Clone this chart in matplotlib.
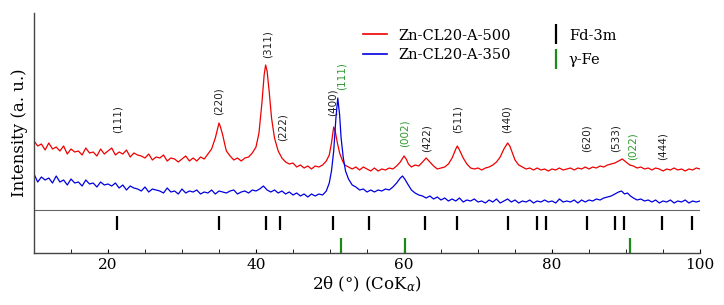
import matplotlib
matplotlib.use("Agg")
import matplotlib.pyplot as plt
from matplotlib.lines import Line2D
from matplotlib.ticker import MultipleLocator

# Zn-CL20-A-500 (red), intensity in arbitrary units
red_x = [10, 10.5, 11, 11.5, 12, 12.5, 13, 13.5, 14, 14.5, 15, 15.5, 16, 16.5, 17, 17.5, 18, 18.5, 19, 19.5,
         20, 20.5, 21, 21.5, 22, 22.5, 23, 23.5, 24, 24.5, 25, 25.5, 26, 26.5, 27, 27.5, 28, 28.5, 29, 29.5,
         30, 30.5, 31, 31.5, 32, 32.5, 33, 33.5, 34, 34.5, 34.8, 35.0, 35.2, 35.5, 35.8, 36, 36.5, 37, 37.5, 38,
         38.5, 39, 39.5, 40, 40.4, 40.8, 41.1, 41.3, 41.5, 41.8, 42.1, 42.5, 43, 43.5, 44, 44.5, 45, 45.5, 46, 46.5,
         47, 47.5, 48, 48.5, 49, 49.5, 49.9, 50.2, 50.5, 50.7, 51.0, 51.3, 51.7, 52, 52.5, 53, 53.5, 54, 54.5, 55,
         55.5, 56, 56.5, 57, 57.5, 58, 58.5, 59, 59.5, 60, 60.3, 60.6, 61, 61.5, 62, 62.5, 63, 63.5, 64, 64.5,
         65, 65.5, 66, 66.5, 67, 67.2, 67.5, 68, 68.5, 69, 69.5, 70, 70.5, 71, 71.5, 72, 72.5, 73, 73.5, 74,
         74.3, 74.7, 75, 75.5, 76, 76.5, 77, 77.5, 78, 78.5, 79, 79.5, 80, 80.5, 81, 81.5, 82, 82.5, 83, 83.5,
         84, 84.5, 85, 85.5, 86, 86.5, 87, 87.5, 88, 88.5, 89, 89.5, 90, 90.5, 91, 91.5, 92, 92.5, 93, 93.5,
         94, 94.5, 95, 95.5, 96, 96.5, 97, 97.5, 98, 98.5, 99, 99.5, 100]
red_y = [112, 107, 109, 103, 110, 104, 106, 102, 107, 99, 104, 101, 102, 98, 105, 100, 101, 97, 104, 99,
         102, 105, 98, 101, 99, 103, 96, 100, 98, 97, 95, 99, 93, 96, 95, 98, 92, 95, 94, 91,
         94, 97, 92, 95, 92, 96, 94, 99, 104, 115, 124, 130, 126, 118, 108, 102, 97, 93, 95, 92,
         95, 96, 100, 106, 120, 150, 178, 188, 182, 160, 135, 115, 102, 95, 91, 89, 90, 86, 88, 85,
         87, 84, 87, 86, 88, 92, 98, 110, 126, 122, 110, 100, 92, 88, 86, 84, 86, 83, 86, 84,
         82, 85, 82, 84, 83, 85, 84, 87, 91, 97, 94, 89, 86, 88, 87, 91, 95, 91, 87, 84,
         85, 86, 89, 95, 104, 107, 103, 95, 89, 85, 84, 85, 83, 85, 86, 88, 91, 96, 104, 110,
         107, 99, 93, 88, 86, 84, 85, 83, 85, 83, 84, 82, 84, 83, 85, 83, 84, 85, 83, 85,
         84, 86, 84, 86, 85, 87, 86, 88, 89, 90, 92, 94, 91, 88, 87, 85, 86, 84, 85, 83,
         85, 84, 82, 84, 83, 85, 83, 84, 82, 84, 83, 85, 84]

# Zn-CL20-A-350 (blue)
blue_x = [10, 10.5, 11, 11.5, 12, 12.5, 13, 13.5, 14, 14.5, 15, 15.5, 16, 16.5, 17, 17.5, 18, 18.5, 19, 19.5,
          20, 20.5, 21, 21.5, 22, 22.5, 23, 23.5, 24, 24.5, 25, 25.5, 26, 26.5, 27, 27.5, 28, 28.5, 29, 29.5,
          30, 30.5, 31, 31.5, 32, 32.5, 33, 33.5, 34, 34.5, 35, 35.5, 36, 36.5, 37, 37.5, 38, 38.5, 39, 39.5,
          40, 40.5, 41, 41.5, 42, 42.5, 43, 43.5, 44, 44.5, 45, 45.5, 46, 46.5, 47, 47.5, 48, 48.5, 49, 49.5,
          49.9, 50.2, 50.5, 50.8, 51.05, 51.3, 51.5, 51.8, 52.1, 52.5, 53, 53.5, 54, 54.5, 55, 55.5, 56, 56.5,
          57, 57.5, 58, 58.5, 59, 59.5, 59.8, 60.1, 60.5, 61, 61.5, 62, 62.5, 63, 63.5, 64, 64.5, 65, 65.5,
          66, 66.5, 67, 67.5, 68, 68.5, 69, 69.5, 70, 70.5, 71, 71.5, 72, 72.5, 73, 73.5, 74, 74.5, 75, 75.5,
          76, 76.5, 77, 77.5, 78, 78.5, 79, 79.5, 80, 80.5, 81, 81.5, 82, 82.5, 83, 83.5, 84, 84.5, 85, 85.5,
          86, 86.5, 87, 87.5, 88, 88.5, 89, 89.4, 89.8, 90.2, 90.6, 91, 91.5, 92, 92.5, 93, 93.5, 94, 94.5, 95,
          95.5, 96, 96.5, 97, 97.5, 98, 98.5, 99, 99.5, 100]
blue_y = [79, 71, 76, 73, 75, 70, 77, 71, 73, 68, 74, 70, 71, 67, 73, 69, 70, 66, 71, 68,
          69, 67, 70, 65, 68, 63, 67, 65, 64, 62, 66, 61, 64, 63, 62, 60, 65, 61, 62, 59,
          64, 60, 62, 61, 63, 59, 61, 60, 63, 59, 62, 61, 60, 62, 63, 59, 61, 62, 60, 63,
          62, 64, 67, 63, 61, 63, 60, 62, 59, 61, 58, 60, 57, 59, 56, 59, 57, 59, 58, 62,
          70, 82, 102, 135, 155, 138, 115, 95, 82, 74, 68, 66, 63, 64, 61, 63, 61, 63,
          62, 64, 63, 66, 70, 75, 77, 74, 69, 63, 60, 58, 57, 55, 57, 54, 56, 53, 55,
          52, 54, 52, 55, 51, 53, 52, 54, 51, 52, 50, 53, 51, 54, 50, 52, 54, 51, 53, 50,
          52, 51, 53, 50, 52, 51, 53, 51, 52, 50, 54, 51, 52, 51, 53, 50, 53, 51, 53, 52,
          54, 53, 55, 56, 57, 59, 61, 62, 59, 60, 57, 55, 53, 54, 52, 53, 51, 53, 50, 52,
          51, 53, 50, 52, 51, 53, 50, 52, 51, 52]

# reference positions (2theta)
fd3m_pos = [21.2, 35.0, 41.3, 43.3, 50.4, 55.3, 62.9, 67.2, 74.1, 78.0, 79.2, 84.7, 88.5, 89.7, 94.9, 98.9]
gfe_pos = [51.5, 60.2, 90.5]

# hkl labels
hkl_x = [21.3, 35.0, 41.6, 43.6, 50.4, 51.6, 60.1, 63.0, 67.3, 73.9, 84.7, 88.6, 90.9, 95.0]
hkl_y = [120, 138, 195, 112, 137, 163, 106, 101, 120, 120, 101, 101, 93, 93]
hkl_txt = ["(111)", "(220)", "(311)", "(222)", "(400)", "(111)", "(002)", "(422)",
           "(511)", "(440)", "(620)", "(533)", "(022)", "(444)"]
hkl_green = [False, False, False, False, False, True, True, False,
             False, False, False, False, True, False]

plt.rcParams['font.family'] = 'DejaVu Serif'
plt.rcParams['mathtext.fontset'] = 'dejavuserif'

fig = plt.figure(figsize=(7.24, 3.05), dpi=100)
ax = fig.add_axes([34/724, 1-253/305, 666/724, 240/305])

ax.plot(red_x, red_y, color='#ee0000', lw=0.9)
ax.plot(blue_x, blue_y, color='#0000dd', lw=0.9)
ax.axhline(43, color='#666666', lw=0.8)
ax.vlines(fd3m_pos, 23, 37, color='black', lw=1.6)
ax.vlines(gfe_pos, 0, 15, color='#1a8a1a', lw=1.6)

for x, y, t, g in zip(hkl_x, hkl_y, hkl_txt, hkl_green):
    ax.text(x, y, t, rotation=90, ha='center', va='bottom', fontsize=7.5,
            family='DejaVu Sans', color='#2e9a2e' if g else '#222222')

ax.set_xlim(10, 100)
ax.set_ylim(0, 240)
ax.set_yticks([])
ax.xaxis.set_major_locator(MultipleLocator(20))
ax.xaxis.set_minor_locator(MultipleLocator(5))
ax.tick_params(axis='x', which='both', direction='in', labelsize=11, length=3)
for s in ['top', 'right']:
    ax.spines[s].set_visible(False)
for s in ['left', 'bottom']:
    ax.spines[s].set_color('#444444')
    ax.spines[s].set_linewidth(1.0)

ax.set_xlabel(r'2θ (°) (CoK$_\alpha$)', fontsize=12, labelpad=2)
ax.set_ylabel('Intensity (a. u.)', fontsize=12, labelpad=4)

h1 = [Line2D([], [], color='#ee0000', lw=1.2), Line2D([], [], color='#0000dd', lw=1.2)]
leg1 = ax.legend(h1, ['Zn-CL20-A-500', 'Zn-CL20-A-350'], loc='upper left',
                 bbox_to_anchor=(0.475, 0.99), frameon=False, fontsize=10.5,
                 handlelength=1.6, labelspacing=0.35)
ax.add_artist(leg1)
h2 = [Line2D([], [], color='black', ls='none', marker='|', ms=15, mew=1.6),
      Line2D([], [], color='#1a8a1a', ls='none', marker='|', ms=15, mew=1.6)]
ax.legend(h2, ['Fd-3m', 'γ-Fe'], loc='upper left', bbox_to_anchor=(0.755, 0.99),
          frameon=False, fontsize=10.5, handlelength=0.8, handletextpad=0.5,
          labelspacing=0.7)

fig.savefig('out.png', dpi=100)
